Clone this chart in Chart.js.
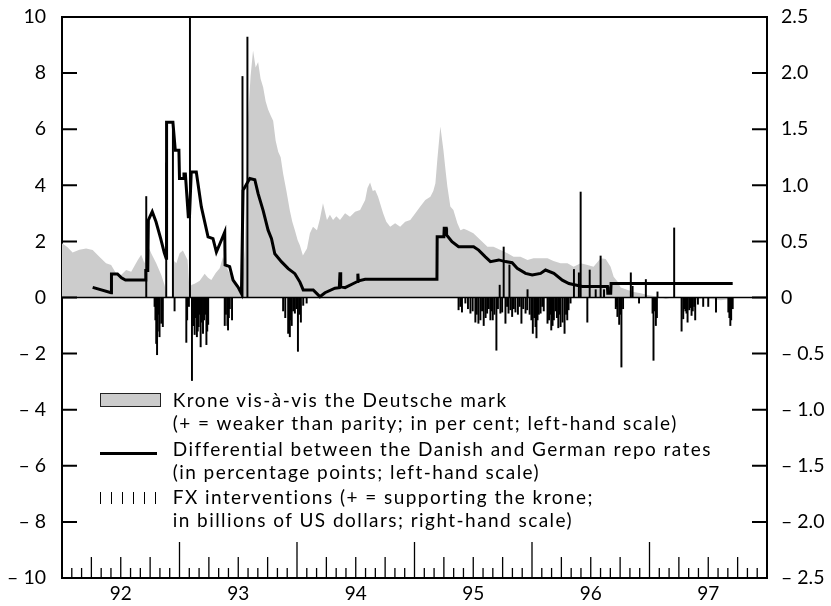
<!DOCTYPE html>
<html>
<head>
<meta charset="utf-8">
<title>Krone vis-à-vis the Deutsche mark</title>
<script src="https://cdn.jsdelivr.net/npm/chart.js@4.4.1/dist/chart.umd.min.js"></script>
<style>
  html, body { margin: 0; padding: 0; background: #fff; overflow: hidden; }
  #wrap { position: relative; width: 831px; height: 606px; font-family: Lato, sans-serif; overflow: hidden; }
  #chart { position: absolute; left: 0; top: 0; display: block; }
  #legend { position: absolute; left: 0; top: 0; width: 831px; height: 606px; pointer-events: none; }
  .lg-text { position: absolute; left: 172.7px; font-size: 19px; letter-spacing: 1.45px; line-height: 23px; white-space: nowrap; color: #000; }
  .lg-box { position: absolute; left: 100px; top: 393px; width: 59px; height: 12px; background: #ccc; border: 1px solid #222; }
  .lg-line { position: absolute; left: 100px; top: 452px; width: 57px; height: 3px; background: #000; }
  .lg-tick { position: absolute; top: 492px; width: 1.3px; height: 12px; background: #000; }
</style>
</head>
<body>
<div id="wrap">
  <canvas id="chart" width="831" height="606"></canvas>
  <div id="legend">
    <div class="lg-box"></div>
    <div class="lg-text" style="top: 388px;">Krone vis-à-vis the Deutsche mark</div>
    <div class="lg-text" style="top: 411px;">(+ = weaker than parity; in per cent; left-hand scale)</div>
    <div class="lg-line"></div>
    <div class="lg-text" style="top: 437px;">Differential between the Danish and German repo rates</div>
    <div class="lg-text" style="top: 459.5px;">(in percentage points; left-hand scale)</div>
    <div class="lg-text" style="top: 484.5px;">FX interventions (+ = supporting the krone;</div>
    <div class="lg-text" style="top: 508px;">in billions of US dollars; right-hand scale)</div>
  </div>
</div>
<script>
const yearLabels = ['92', '93', '94', '95', '96', '97'];
const leftTicks = [-10, -8, -6, -4, -2, 0, 2, 4, 6, 8, 10];
const rightTicks = [-2.5, -2, -1.5, -1, -0.5, 0, 0.5, 1, 1.5, 2, 2.5];

// krone vs DM, per cent (left scale)
const kroneDates = [
    92.000, 92.045, 92.090, 92.148, 92.205, 92.261, 92.318, 92.375, 92.418, 92.461,
    92.503, 92.546, 92.589, 92.645, 92.674, 92.702, 92.730, 92.759, 92.802, 92.845,
    92.873, 92.890, 92.940, 92.955, 92.973, 93.001, 93.029, 93.069, 93.086, 93.100,
    93.129, 93.172, 93.214, 93.243, 93.271, 93.308, 93.342, 93.370, 93.413, 93.456,
    93.498, 93.527, 93.555, 93.584, 93.605, 93.626, 93.648, 93.669, 93.690, 93.712,
    93.733, 93.754, 93.775, 93.797, 93.818, 93.840, 93.861, 93.882, 93.910, 93.939,
    93.960, 93.982, 94.005, 94.025, 94.050, 94.085, 94.110, 94.136, 94.170, 94.195,
    94.221, 94.255, 94.280, 94.307, 94.335, 94.366, 94.409, 94.451, 94.494, 94.537,
    94.580, 94.600, 94.622, 94.645, 94.665, 94.690, 94.733, 94.760, 94.793, 94.835,
    94.878, 94.921, 94.964, 95.007, 95.049, 95.092, 95.135, 95.160, 95.178, 95.194,
    95.220, 95.246, 95.265, 95.280, 95.305, 95.331, 95.365, 95.391, 95.420, 95.450,
    95.501, 95.561, 95.621, 95.672, 95.732, 95.791, 95.843, 95.902, 95.962, 96.013,
    96.073, 96.132, 96.183, 96.243, 96.302, 96.354, 96.414, 96.473, 96.524, 96.584,
    96.627, 96.669, 96.695, 96.729, 96.755, 96.815, 96.866, 96.925, 96.985, 97.036,
    97.090, 97.139, 97.200, 97.267, 97.330, 97.395, 97.460, 97.523, 97.608, 97.670,
    97.702
];
const kroneValues = [
    1.93, 1.80, 1.60, 1.70, 1.75, 1.69, 1.45, 1.22, 1.16, 0.86,
    0.80, 0.98, 0.92, 1.34, 1.52, 1.22, 1.87, 1.58, 1.22, 0.80,
    0.45, 0.05, 0.05, 1.30, 1.22, 1.58, 1.68, 1.34, 0.20, 0.45,
    0.49, 0.60, 0.85, 0.70, 0.62, 0.87, 1.04, 1.44, 0.97, 0.61,
    0.26, 0.10, 1.70, 6.43, 7.90, 8.81, 8.20, 8.40, 7.80, 7.50,
    7.00, 6.70, 6.50, 6.30, 5.60, 5.20, 5.00, 4.41, 3.80, 3.10,
    2.70, 2.40, 2.05, 1.85, 1.50, 1.75, 2.29, 2.52, 2.40, 2.80,
    3.36, 2.76, 2.95, 2.76, 2.90, 2.76, 3.00, 2.88, 3.06, 3.12,
    3.48, 3.90, 4.10, 3.80, 3.83, 3.59, 3.00, 2.70, 2.52, 2.65,
    2.52, 2.70, 2.76, 3.00, 3.24, 3.48, 3.59, 3.80, 4.07, 4.90,
    6.10, 5.26, 4.50, 3.95, 3.24, 3.12, 2.65, 2.40, 2.45, 2.40,
    2.29, 2.05, 1.81, 1.81, 1.69, 1.58, 1.45, 1.45, 1.34, 1.40,
    1.40, 1.40, 1.30, 1.22, 1.22, 1.10, 1.22, 1.16, 1.10, 1.40,
    1.37, 1.10, 0.74, 0.56, 0.36, 0.27, 0.20, 0.15, 0.09, 0.05,
    0.02, -0.05, 0.02, 0.03, -0.06, -0.08, -0.04, -0.05, -0.10, -0.06,
    0.00
];

// repo rate differential, percentage points (left scale)
const repoDates = [
    92.261, 92.418, 92.421, 92.472, 92.506, 92.540, 92.710, 92.713, 92.730, 92.735,
    92.768, 92.800, 92.840, 92.870, 92.886, 92.890, 92.944, 92.964, 92.995, 93.000,
    93.035, 93.038, 93.050, 93.075, 93.085, 93.100, 93.143, 93.186, 93.243, 93.285,
    93.314, 93.342, 93.385, 93.388, 93.427, 93.456, 93.498, 93.527, 93.541, 93.598,
    93.641, 93.669, 93.712, 93.754, 93.783, 93.811, 93.869, 93.925, 93.982, 94.025,
    94.053, 94.138, 94.195, 94.238, 94.323, 94.360, 94.366, 94.372, 94.409, 94.480,
    94.515, 94.518, 94.522, 94.580, 95.191, 95.193, 95.250, 95.253, 95.270, 95.273,
    95.319, 95.375, 95.503, 95.546, 95.603, 95.646, 95.717, 95.774, 95.831, 95.874,
    95.945, 96.002, 96.073, 96.115, 96.186, 96.258, 96.314, 96.428, 96.642, 96.645,
    96.670, 96.673, 97.708
];
const repoValues = [
    0.36, 0.17, 0.84, 0.84, 0.70, 0.62, 0.62, 0.96, 0.96, 2.76,
    3.06, 2.70, 2.10, 1.60, 1.40, 6.25, 6.25, 5.25, 5.25, 4.24,
    4.24, 4.40, 4.40, 2.88, 2.88, 4.47, 4.47, 3.23, 2.16, 2.10,
    1.62, 1.90, 2.33, 1.16, 1.10, 0.62, 0.37, 0.14, 3.82, 4.24,
    4.20, 3.70, 3.10, 2.40, 2.10, 1.56, 1.27, 1.03, 0.85, 0.55,
    0.27, 0.27, 0.03, 0.17, 0.33, 0.35, 0.90, 0.38, 0.35, 0.50,
    0.57, 0.85, 0.59, 0.65, 0.65, 2.17, 2.17, 2.47, 2.47, 2.23,
    1.99, 1.81, 1.81, 1.69, 1.45, 1.28, 1.34, 1.28, 1.24, 1.04,
    0.86, 0.80, 0.86, 0.98, 0.86, 0.62, 0.50, 0.39, 0.39, 0.15,
    0.15, 0.50, 0.50
];

// FX interventions, billions of USD (right scale)
const fxDates = [
    92.717, 92.788, 92.795, 92.802, 92.809, 92.815, 92.823, 92.830, 92.845, 92.852,
    92.858, 92.887, 92.944, 92.958, 93.058, 93.065, 93.080, 93.089, 93.106, 93.115,
    93.129, 93.138, 93.148, 93.155, 93.163, 93.172, 93.180, 93.190, 93.200, 93.210,
    93.220, 93.229, 93.236, 93.244, 93.385, 93.395, 93.408, 93.413, 93.420, 93.428,
    93.447, 93.536, 93.578, 93.882, 93.900, 93.925, 93.939, 93.945, 93.955, 93.968,
    93.982, 93.995, 94.008, 94.020, 94.033, 94.053, 94.082, 95.375, 95.390, 95.404,
    95.433, 95.455, 95.476, 95.495, 95.518, 95.530, 95.544, 95.561, 95.575, 95.589,
    95.605, 95.618, 95.632, 95.646, 95.655, 95.666, 95.680, 95.697, 95.710, 95.725,
    95.731, 95.746, 95.759, 95.774, 95.788, 95.800, 95.808, 95.817, 95.831, 95.845,
    95.859, 95.880, 95.895, 95.910, 95.925, 95.945, 95.959, 95.962, 95.980, 95.995,
    96.007, 96.020, 96.030, 96.038, 96.047, 96.058, 96.073, 96.087, 96.100, 96.132,
    96.145, 96.155, 96.164, 96.175, 96.186, 96.200, 96.212, 96.224, 96.235, 96.243,
    96.260, 96.277, 96.290, 96.300, 96.311, 96.328, 96.357, 96.399, 96.414, 96.471,
    96.491, 96.542, 96.584, 96.613, 96.713, 96.720, 96.727, 96.742, 96.750, 96.761,
    96.775, 96.841, 96.856, 96.911, 96.969, 97.026, 97.034, 97.045, 97.054, 97.063,
    97.068, 97.210, 97.273, 97.287, 97.295, 97.306, 97.315, 97.324, 97.338, 97.345,
    97.358, 97.368, 97.380, 97.389, 97.412, 97.457, 97.500, 97.566, 97.671, 97.680,
    97.688, 97.695, 97.708
];
const fxValues = [
    0.90, -0.08, -0.20, -0.41, -0.51, -0.30, -0.15, -0.35, -0.23, -0.12,
    -0.26, 1.20, 1.55, -0.12, -0.40, -0.20, -0.08, 2.60, -0.74, -0.25,
    -0.33, -0.18, -0.35, -0.30, -0.26, -0.15, -0.44, -0.22, -0.32, -0.20,
    -0.15, -0.42, -0.30, -0.24, -0.25, -0.15, -0.25, -0.29, -0.18, -0.10,
    -0.20, 1.97, 2.32, -0.12, -0.18, -0.32, -0.35, -0.20, -0.25, -0.12,
    -0.14, -0.10, -0.48, -0.15, -0.22, -0.07, -0.05, -0.11, -0.08, -0.13,
    -0.05, -0.10, -0.14, -0.12, -0.22, -0.15, -0.23, -0.20, -0.12, -0.25,
    -0.18, -0.14, -0.10, -0.20, -0.12, -0.20, -0.15, -0.47, -0.10, 0.11,
    -0.14, -0.13, 0.45, -0.23, -0.08, -0.14, 0.29, -0.11, -0.17, -0.10,
    -0.13, -0.15, -0.08, -0.23, -0.10, -0.14, -0.11, 0.07, -0.15, -0.20,
    -0.32, -0.18, -0.26, -0.36, -0.20, -0.15, -0.14, -0.08, -0.12, -0.23,
    -0.20, -0.15, -0.29, -0.25, -0.20, -0.12, -0.18, -0.27, -0.15, -0.26,
    -0.22, -0.32, -0.15, -0.20, -0.11, -0.05, 0.25, 0.22, 0.94, -0.22,
    0.245, 0.07, 0.37, 0.07, -0.10, -0.08, -0.17, -0.24, -0.15, -0.62,
    -0.10, 0.22, 0.10, -0.05, 0.16, -0.14, -0.56, -0.12, -0.25, -0.18,
    0.05, 0.62, -0.30, -0.19, -0.10, -0.12, -0.14, -0.22, -0.11, -0.09,
    -0.16, -0.12, -0.08, -0.20, -0.06, -0.08, -0.08, -0.13, -0.13, -0.18,
    -0.25, -0.20, -0.10
];

// legend tick symbol
const legend = document.getElementById('legend');
[100, 111, 122, 133, 144, 155].forEach(x => {
    const t = document.createElement('div');
    t.className = 'lg-tick';
    t.style.left = x + 'px';
    legend.appendChild(t);
});

function leftLabel(v) {
    return v < 0 ? '– ' + (-v) : String(v);
}

function rightLabel(v) {
    if (v === 0) return '0';
    return v < 0 ? '– ' + (-v).toFixed(1) : v.toFixed(1);
}

// frame top, zero line and inward tick marks (months, quarters, years on x; values on both y axes)
const tickMarks = {
    id: 'tickMarks',
    afterDraw(chart) {
        const { ctx, chartArea: a, scales } = chart;
        ctx.save();
        ctx.strokeStyle = '#000';

        ctx.lineWidth = 2;
        ctx.beginPath();
        ctx.moveTo(a.left - 1, a.top);
        ctx.lineTo(a.right + 1, a.top);
        ctx.stroke();

        ctx.lineWidth = 1.5;
        ctx.beginPath();
        const y0 = scales.y.getPixelForValue(0);
        ctx.moveTo(a.left, y0);
        ctx.lineTo(a.right, y0);
        ctx.stroke();

        ctx.lineWidth = 1.3;
        ctx.beginPath();
        for (let m = 1; m < 72; m++) {
            const x = scales.x.getPixelForValue(92 + m / 12);
            const len = m % 12 === 0 ? 36 : (m % 3 === 0 ? 21 : 10);
            ctx.moveTo(x, a.bottom);
            ctx.lineTo(x, a.bottom - len);
        }
        ctx.stroke();

        ctx.lineWidth = 2;
        ctx.beginPath();
        leftTicks.forEach(v => {
            const y = scales.y.getPixelForValue(v);
            ctx.moveTo(a.left, y);
            ctx.lineTo(a.left + 15, y);
        });
        rightTicks.forEach(v => {
            const y = scales.yR.getPixelForValue(v);
            ctx.moveTo(a.right - 15, y);
            ctx.lineTo(a.right, y);
        });
        ctx.stroke();
        ctx.restore();
    }
};

Chart.defaults.font.family = 'Lato, sans-serif';
Chart.defaults.color = '#000';

new Chart(document.getElementById('chart'), {
    type: 'line',
    data: {
        datasets: [
            {
                label: 'Repo differential',
                data: repoDates.map((d, i) => ({ x: d, y: repoValues[i] })),
                borderColor: '#000',
                borderWidth: 3,
                pointRadius: 0,
                tension: 0,
                fill: false,
                yAxisID: 'y',
                order: 0
            },
            {
                type: 'bar',
                label: 'FX interventions',
                data: fxDates.map((d, i) => ({ x: d, y: fxValues[i] })),
                backgroundColor: '#000',
                barThickness: 1.3,
                yAxisID: 'yR',
                order: 1
            },
            {
                label: 'Krone vis-à-vis the Deutsche mark',
                data: kroneDates.map((d, i) => ({ x: d, y: kroneValues[i] })),
                backgroundColor: '#cccccc',
                borderColor: 'rgba(0,0,0,0)',
                borderWidth: 0,
                pointRadius: 0,
                tension: 0,
                fill: 'origin',
                yAxisID: 'y',
                order: 2
            }
        ]
    },
    options: {
        responsive: false,
        animation: false,
        layout: { padding: { top: 17, left: 0, right: 0, bottom: 0 } },
        plugins: { legend: { display: false }, tooltip: { enabled: false } },
        scales: {
            x: {
                type: 'linear',
                min: 92,
                max: 98,
                bounds: 'data',
                offset: false,
                afterBuildTicks: s => { s.ticks = yearLabels.map(l => ({ value: Number(l) + 0.5 })); },
                afterFit: s => { s.height = 28; s.paddingLeft = 0; s.paddingRight = 0; },
                ticks: {
                    callback: (v, i) => yearLabels[i],
                    autoSkip: false,
                    maxRotation: 0,
                    padding: 4,
                    font: { size: 19 }
                },
                grid: { display: false, drawTicks: false },
                border: { display: true, color: '#000', width: 2 }
            },
            y: {
                type: 'linear',
                position: 'left',
                min: -10,
                max: 10,
                bounds: 'data',
                afterBuildTicks: s => { s.ticks = leftTicks.map(v => ({ value: v })); },
                afterFit: s => { s.width = 62; s.paddingTop = 0; s.paddingBottom = 0; },
                ticks: {
                    callback: v => leftLabel(v),
                    padding: 16,
                    font: { size: 19.5 }
                },
                grid: { display: false, drawTicks: false },
                border: { display: true, color: '#000', width: 2 }
            },
            yR: {
                type: 'linear',
                position: 'right',
                min: -2.5,
                max: 2.5,
                bounds: 'data',
                afterBuildTicks: s => { s.ticks = rightTicks.map(v => ({ value: v })); },
                afterFit: s => { s.width = 64; s.paddingTop = 0; s.paddingBottom = 0; },
                ticks: {
                    callback: v => rightLabel(v),
                    padding: 14,
                    font: { size: 19.5 }
                },
                grid: { display: false, drawTicks: false },
                border: { display: true, color: '#000', width: 2 }
            }
        }
    },
    plugins: [tickMarks]
});
</script>
</body>
</html>
